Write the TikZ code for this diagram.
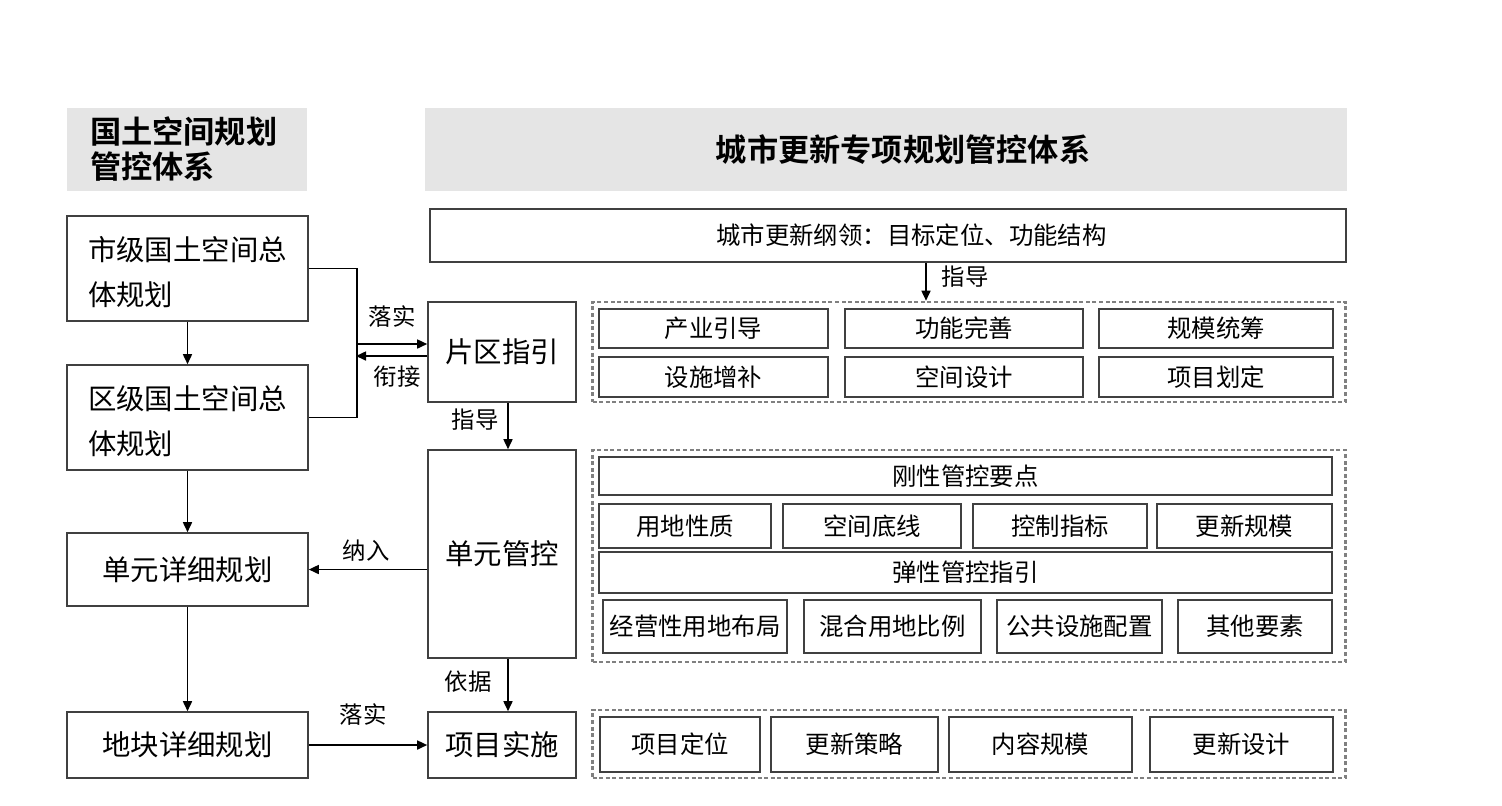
\documentclass[tikz,border=0pt]{standalone}
\usepackage{fontspec}
\setmainfont{Noto Sans CJK SC}[BoldFont={* Bold}]
\usetikzlibrary{arrows.meta,positioning,calc}

\begin{document}
\begin{tikzpicture}[
    x=0.5pt, y=-0.5pt,
    sz/.style 2 args={minimum width=#1, minimum height=#2},
    % 实线方框
    box/.style={
        draw=black!75,
        line width=0.8pt,
        inner sep=1pt,
        align=left,
        font=\fontsize{14.2}{22.5}\selectfont},
    item/.style={
        draw=black!75,
        line width=0.8pt,
        inner sep=1pt,
        font=\fontsize{12.2}{14}\selectfont},
    % 虚线分组框
    group/.style={
        draw=black!50,
        line width=1.3pt,
        dash pattern=on 2pt off 1.3pt},
    head/.style={
        fill=black!10,
        align=left,
        font=\fontsize{15.6}{17.5}\selectfont\bfseries},
    lbl/.style={inner sep=0pt, font=\fontsize{11.7}{13}\selectfont},
    arr/.style={line width=0.8pt, -{Triangle[length=5pt,width=4.5pt]}}]
  \useasboundingbox (0,0) rectangle (1502,805);
  % 标题
  \node (lt) [head, sz={120pt}{41.5pt}, inner xsep=11.5pt, text width=97pt] at (187,149.5) {国土空间规划\\管控体系};
  \node (rt) [head, sz={461pt}{41.5pt}] at (886,149.5) {\hspace*{17pt}城市更新专项规划管控体系};
  % 左侧：国土空间规划
  \node (city)  [box, sz={120.5pt}{52.5pt}] at (187.5,268.5) {\rule{0pt}{16pt}市级国土空间总\\体规划};
  \node (dist)  [box, sz={120.5pt}{52.5pt}] at (187.5,417.5) {\rule{0pt}{16pt}区级国土空间总\\体规划};
  \node (unitp) [box, sz={120.5pt}{36.5pt}] at (187.5,569.5) {单元详细规划};
  \node (plot)  [box, sz={120.5pt}{33pt}]   at (187.5,745)   {地块详细规划};
  % 中间：城市更新层级
  \node (zone) [box, sz={74pt}{50pt}]  at (502,352) {片区指引};
  \node (unit) [box, sz={74pt}{104pt}] at (502,554) {单元管控};
  \node (proj) [box, sz={74pt}{33pt}]  at (502,745) {项目实施};
  \node (guide) [item, sz={458pt}{26.5pt}] at (888,235.5) {\hspace*{23.5pt}城市更新纲领：目标定位、功能结构};
  % 右侧：分组
  \node (g1) [group, sz={376.5pt}{50pt}]  at (969,352) {};
  \node (g2) [group, sz={376.5pt}{106pt}] at (969,556) {};
  \node (g3) [group, sz={376.5pt}{34pt}]  at (969,744) {};
  % 片区
  \node (a1) [item, sz={114.5pt}{19.5pt}] at (713.5,328.5) {产业引导};
  \node (a2) [item, sz={119pt}{19.5pt}]   at (964,328.5)   {功能完善};
  \node (a3) [item, sz={117pt}{19.5pt}]   at (1216,328.5)  {规模统筹};
  \node (a4) [item, sz={114.5pt}{20pt}]   at (713.5,377)   {设施增补};
  \node (a5) [item, sz={119pt}{20pt}]     at (964,377)     {空间设计};
  \node (a6) [item, sz={117pt}{20pt}]     at (1216,377)    {项目划定};
  % 单元
  \node (rigid) [item, sz={366.5pt}{19pt}] at (965.5,476) {刚性管控要点};
  \node (b1) [item, sz={86pt}{22pt}]   at (685,526)    {用地性质};
  \node (b2) [item, sz={89pt}{22pt}]   at (872,526)    {空间底线};
  \node (b3) [item, sz={87pt}{22pt}]   at (1060,526)   {控制指标};
  \node (b4) [item, sz={87.5pt}{22pt}] at (1244.5,526) {更新规模};
  \node (flex) [item, sz={366.5pt}{20.5pt}] at (965.5,572.5) {弹性管控指引};
  \node (c1) [item, sz={92pt}{26.5pt}]   at (695,626.5)    {经营性用地布局};
  \node (c2) [item, sz={88.5pt}{26.5pt}] at (892.5,626.5)  {混合用地比例};
  \node (c3) [item, sz={82.5pt}{26.5pt}] at (1079.5,626.5) {公共设施配置};
  \node (c4) [item, sz={77pt}{26.5pt}]   at (1255,626.5)   {其他要素};
  % 项目
  \node (d1) [item, sz={80pt}{27.5pt}]   at (680,744.5)    {项目定位};
  \node (d2) [item, sz={83.5pt}{27.5pt}] at (854.5,744.5)  {更新策略};
  \node (d3) [item, sz={91.5pt}{27.5pt}] at (1040.5,744.5) {内容规模};
  \node (d4) [item, sz={91.5pt}{27.5pt}] at (1241.5,744.5) {更新设计};
  % 连线
  \draw[arr] (city) -- (dist);
  \draw[arr] (dist) -- (unitp);
  \draw[arr] (unitp) -- (plot);
  \coordinate (brk1) at (356,344);
  \coordinate (brk2) at (356,356);
  \draw[line width=0.8pt] (city.east) -- ++(48,0) |- (dist.east);
  \draw[arr] (brk1) -- (brk1 -| zone.west);
  \draw[arr] (zone.west |- brk2) -- (brk2);
  \node (lo1) [lbl] at (392,317) {落实};
  \node (xj)  [lbl] at (397,377) {衔接};
  \draw[arr] ([xshift=3pt]zone.south) -- ([xshift=3pt]unit.north);
  \node (zd1) [lbl] at (475,420) {指导};
  \draw[arr] (unit.west |- unitp.east) -- (unitp.east);
  \node (nr) [lbl] at (366,551) {纳入};
  \draw[arr] ([xshift=3pt]unit.south) -- ([xshift=3pt]proj.north);
  \node (yj) [lbl] at (468,682) {依据};
  \draw[arr] (plot) -- (proj);
  \node (lo2) [lbl] at (363,715) {落实};
  \draw[arr] ([xshift=19pt]guide.south) -- ([xshift=19pt]guide.south |- g1.north);
  \node (zd2) [lbl] at (965,277) {指导};
\end{tikzpicture}
\end{document}
